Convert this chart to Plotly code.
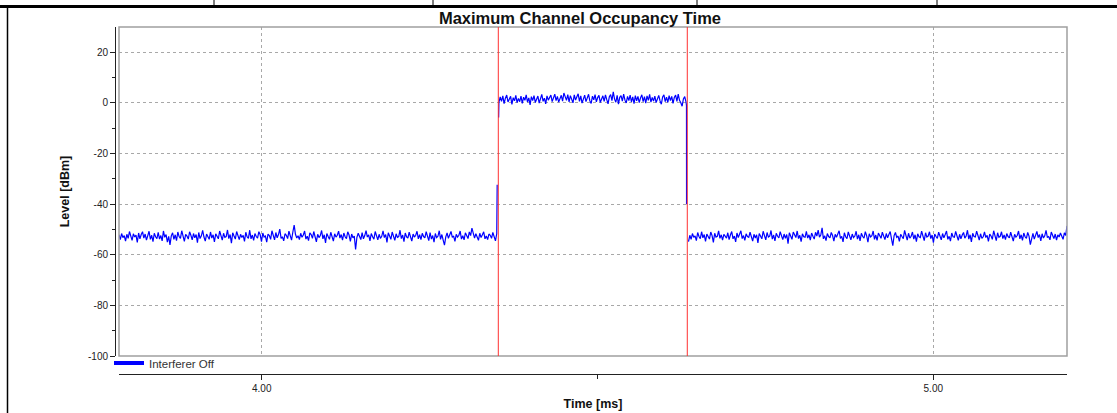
import numpy as np
import plotly.graph_objects as go

# ---------------- data ----------------
off1_levels = [
    -52.1, -54.0, -51.6, -53.2, -52.4, -54.6, -51.9, -53.5, -50.8, -52.9,
    -54.3, -51.7, -53.0, -52.2, -55.1, -51.4, -53.7, -52.0, -50.9, -53.4,
    -51.8, -54.2, -52.6, -50.7, -53.9, -52.3, -54.8, -51.5, -52.9, -53.6,
    -51.1, -53.8, -52.4, -54.5, -50.6, -53.1, -52.0, -55.0, -52.7, -56.1,
    -52.5, -51.3, -53.9, -52.1, -54.4, -51.0, -52.8, -53.5, -50.5, -53.2,
    -54.7, -51.9, -52.6, -53.8, -50.9, -52.3, -54.1, -51.6, -53.3, -52.0,
    -55.2, -51.2, -53.6, -52.5, -50.4, -53.0, -54.6, -51.8, -52.7, -53.9,
    -51.0, -53.4, -52.1, -54.9, -51.7, -52.9, -53.7, -50.6, -52.4, -54.2,
    -51.5, -53.1, -52.8, -50.2, -53.6, -52.0, -55.4, -51.3, -52.6, -53.8,
    -50.8, -52.5, -54.0, -51.9, -53.2, -52.3, -54.7, -51.1, -52.9, -53.5,
    -50.3, -53.7, -52.2, -54.3, -51.6, -52.8, -53.4, -50.9, -52.1, -54.8,
    -51.4, -53.0, -52.6, -55.0, -51.8, -52.4, -53.9, -50.5, -52.7, -54.1,
    -51.2, -53.3, -52.0, -49.9, -53.5, -52.9, -54.5, -51.7, -52.3, -53.6,
    -50.7, -52.8, -54.2, -51.0, -48.3, -51.9, -53.4, -52.5, -54.0, -51.5,
    -53.1, -52.2, -50.6, -53.8, -52.7, -54.4, -51.3, -52.0, -53.5, -50.8,
    -52.6, -54.9, -51.9, -53.2, -52.4, -50.4, -53.7, -52.1, -55.3, -51.6,
    -52.8, -53.9, -51.1, -52.5, -54.6, -51.7, -53.0, -52.3, -50.7, -53.4,
    -52.0, -54.2, -51.4, -52.9, -53.6, -50.9, -52.2, -54.7, -51.8, -53.3,
    -52.6, -57.9, -53.1, -51.5, -52.8, -54.0, -51.2, -53.7, -52.4, -50.5,
    -53.0, -52.1, -54.5, -51.6, -52.9, -53.8, -50.8, -52.3, -54.1, -51.9,
    -53.5, -52.7, -50.6, -53.2, -52.0, -55.1, -51.3, -52.6, -53.9, -51.0,
    -52.4, -54.3, -51.7, -53.1, -52.8, -50.3, -53.6, -52.2, -54.8, -51.4,
    -52.9, -53.4, -51.1, -52.5, -54.6, -51.8, -53.0, -52.3, -50.7, -53.7,
    -52.1, -54.0, -51.5, -52.8, -53.3, -50.9, -52.6, -54.4, -51.2, -53.8,
    -52.4, -55.0, -51.6, -53.2, -52.7, -50.5, -53.9, -52.0, -54.2, -56.2,
    -52.9, -51.4, -53.5, -52.2, -50.8, -53.1, -52.6, -54.7, -51.9, -53.0,
    -52.3, -50.6, -53.8, -52.5, -54.1, -51.3, -52.8, -53.6, -51.0, -52.4,
    -49.5, -52.0, -53.4, -51.7, -52.9, -54.3, -51.5, -53.2, -52.1, -50.9,
    -53.7, -52.6, -54.0, -51.8, -52.3, -53.5, -51.2, -52.8, -54.5, -51.6,
]

on_levels = [
    0.2, 2.4, 0.6, 2.8, -0.3, 1.9, 3.1, 0.4, 1.7, 2.6,
    -0.6, 2.1, 0.8, 3.0, 0.1, 1.8, 0.5, 2.7, -0.2, 2.3,
    1.0, 3.2, 0.3, 2.0, -0.8, 2.5, 0.9, 2.9, 0.2, 1.6,
    2.7, -0.1, 2.2, 3.4, 0.6, 1.9, -0.4, 2.8, 1.1, 2.4,
    3.1, 0.5, 2.0, 3.5, 0.9, 2.6, 0.3, 2.1, 3.0, 0.7,
    3.9, 2.5, 1.0, 3.3, 0.4, 2.9, 1.8, 0.0, 3.2, 1.1,
    2.4, 3.6, 0.6, 2.8, -0.1, 2.0, 3.1, 0.5, 2.3, 3.4,
    0.8, -0.2, 2.7, 1.2, 3.3, 0.4, 2.1, 3.0, 0.2, 1.9,
    2.8, 0.6, 3.2, 1.3, -0.4, 2.5, 3.3, 0.9, 4.4, 1.5,
    0.3, 3.0, -0.5, 2.2, 2.9, 0.7, 3.5, 1.1, 0.0, 2.6,
    0.9, 3.1, 0.4, 2.4, -0.3, 2.9, 0.8, 2.6, 0.1, 2.0,
    3.2, 0.5, 2.5, -0.1, 2.8, 1.0, 3.4, 0.3, 2.2, 0.7,
    2.7, 0.1, 2.1, 3.0, 0.8, -0.5, 2.4, 3.2, 0.5, 2.3,
    0.2, 2.9, 0.9, 2.6, -0.2, 2.2, 3.1, 0.6, 3.5, 1.0,
    0.1, -1.3, 1.6, 2.5, 0.4,
]

off2_levels = [
    -54.8, -52.3, -53.9, -51.6, -53.1, -52.5, -54.4, -51.2, -52.8, -53.6,
    -50.9, -53.3, -52.0, -54.7, -51.8, -52.6, -53.8, -51.0, -52.4, -55.1,
    -51.5, -53.0, -52.7, -50.6, -53.5, -52.1, -54.2, -51.9, -52.9, -53.4,
    -51.3, -54.0, -52.2, -50.8, -53.7, -52.6, -54.9, -51.4, -53.2, -52.0,
    -50.5, -53.6, -52.4, -54.3, -51.7, -52.8, -53.1, -51.1, -52.5, -54.6,
    -51.9, -53.4, -52.1, -55.3, -51.6, -52.9, -53.7, -50.7, -52.3, -54.1,
    -51.2, -53.0, -52.6, -50.4, -53.8, -52.2, -54.5, -51.5, -52.7, -53.3,
    -50.9, -52.4, -54.0, -51.8, -53.5, -52.0, -55.6, -51.3, -52.8, -53.9,
    -51.0, -52.5, -53.2, -50.6, -53.6, -52.3, -54.8, -51.7, -52.9, -53.1,
    -50.8, -53.4, -52.1, -54.2, -51.4, -52.7, -53.8, -51.1, -52.6, -50.3,
    -53.0, -52.2, -49.4, -53.7, -52.5, -54.4, -51.6, -52.8, -53.3, -51.2,
    -52.4, -54.6, -51.9, -53.1, -52.0, -50.5, -53.5, -52.7, -54.9, -51.3,
    -52.9, -53.6, -51.0, -52.3, -54.1, -51.8, -53.2, -52.6, -50.7, -53.8,
    -52.1, -54.5, -51.5, -52.8, -53.4, -50.9, -52.4, -55.0, -51.7, -53.0,
    -52.5, -50.6, -53.9, -52.2, -54.3, -51.4, -52.7, -53.5, -51.1, -52.9,
    -54.0, -51.6, -53.3, -52.0, -50.8, -53.7, -56.4, -52.4, -51.2, -53.1,
    -52.6, -54.7, -51.9, -52.8, -53.6, -50.4, -52.3, -54.2, -51.5, -53.4,
    -52.7, -51.0, -53.8, -52.1, -54.8, -51.7, -52.9, -53.2, -50.7, -52.5,
    -54.4, -51.3, -53.0, -52.6, -50.9, -53.6, -52.2, -55.2, -51.8, -52.8,
    -53.5, -51.1, -52.4, -54.1, -51.6, -53.3, -52.0, -50.6, -53.9, -52.7,
    -54.6, -51.4, -52.9, -53.1, -50.8, -52.5, -54.3, -51.9, -53.7, -52.2,
    -51.2, -53.4, -52.6, -50.3, -53.8, -52.1, -54.9, -51.5, -52.8, -53.0,
    -50.7, -52.4, -54.2, -51.7, -53.5, -52.9, -51.0, -53.2, -52.3, -54.7,
    -51.8, -52.6, -53.9, -50.5, -52.0, -54.4, -51.3, -53.1, -52.7, -50.9,
    -53.6, -52.2, -54.0, -51.6, -52.8, -53.3, -51.1, -52.5, -54.6, -51.9,
    -53.0, -52.4, -50.6, -53.7, -52.1, -54.3, -51.4, -52.9, -53.5, -51.2,
    -52.6, -56.0, -52.9, -51.5, -53.8, -52.3, -50.8, -53.2, -52.0, -54.5,
    -51.7, -53.4, -52.5, -50.4, -53.1, -52.8, -54.1, -51.0, -52.3, -53.6,
    -51.8, -54.2, -52.1, -53.0, -51.4, -52.7, -53.9, -51.3, -52.4, -48.6,
]

# segment time spans [ms]
off1_span = [3.7875, 4.3500]
on_span = [4.3532, 4.6318]
off2_span = [4.6355, 5.1991]

# edge samples (NaN = no sample drawn, leaves a gap in the trace)
rise_times = [4.3506, 4.3517, 4.3528]
rise_levels = [-32.3, float("nan"), -5.8]
fall_times = [4.6325, 4.6326, 4.6340]
fall_levels = [-1.0, -40.0, float("nan")]

cursor_times = [4.3523, 4.6337]

series_name = "Interferer Off"
x_range = [3.7875, 5.1991]
y_range = [-100, 30]
x_tickvals = [4.0, 5.0]
x_ticktext = ["4.00", "5.00"]
x_minor = [4.5]
y_tickvals = [-100, -80, -60, -40, -20, 0, 20]
y_ticktext = ["-100", "-80", "-60", "-40", "-20", "0", "20"]
y_minor = [-90, -70, -50, -30, -10, 10]

# ---------------- build the trace ----------------
t_off1 = np.linspace(off1_span[0], off1_span[1], len(off1_levels))
t_on = np.linspace(on_span[0], on_span[1], len(on_levels))
t_off2 = np.linspace(off2_span[0], off2_span[1], len(off2_levels))

t_all = np.concatenate([t_off1, rise_times, t_on, fall_times, t_off2])
y_all = np.concatenate([off1_levels, rise_levels, on_levels, fall_levels, off2_levels])

W, H = 1117, 413
ML, MR, MT, MB = 115, 50, 27, 39
PW, PH = W - ML - MR, H - MT - MB


def px(xp):
    return (xp - ML) / PW


def py(yp):
    return (H - MB - yp) / PH


fig = go.Figure()
fig.add_trace(go.Scatter(
    x=t_all, y=y_all, mode="lines", connectgaps=False,
    line=dict(color="#0000ff", width=1.2),
    showlegend=False, hoverinfo="skip",
))
fig.add_trace(go.Scatter(
    x=[None], y=[None], mode="lines", name=series_name,
    line=dict(color="#0000ff", width=4), showlegend=True,
))

FONT = "Liberation Sans, Arial, sans-serif"
tickfont = dict(family=FONT, size=10, color="#222")
titlefont = dict(family=FONT, size=12.5, color="#111", weight="bold")

fig.update_layout(
    width=W, height=H, autosize=False,
    margin=dict(l=ML, r=MR, t=MT, b=MB, pad=0),
    paper_bgcolor="white", plot_bgcolor="white",
    title=dict(text="Maximum Channel Occupancy Time", x=px(580), xref="paper",
               xanchor="center", y=1 - 18 / H, yref="container", yanchor="middle",
               font=dict(family=FONT, size=16.5, color="#111", weight="bold"),
               automargin=False),
    xaxis=dict(
        domain=[px(119), 1], range=x_range, anchor="free", position=0,
        automargin=False,
        showline=True, linecolor="#222", linewidth=1,
        ticks="outside", ticklen=5, tickcolor="#222",
        tickmode="array", tickvals=x_tickvals, ticktext=x_ticktext,
        tickfont=tickfont,
        minor=dict(tickmode="array", tickvals=x_minor, ticks="outside", ticklen=4,
                   tickcolor="#222", showgrid=False),
        showgrid=True, gridcolor="#a8a8a8", griddash="3px,3px", gridwidth=1,
        zeroline=False,
        title=dict(text="Time [ms]", font=titlefont, standoff=6),
    ),
    yaxis=dict(
        domain=[py(356), 1], range=y_range, anchor="free", position=0,
        automargin=False,
        showline=True, linecolor="#222", linewidth=1,
        ticks="outside", ticklen=5, tickcolor="#222",
        tickmode="array", tickvals=y_tickvals, ticktext=y_ticktext,
        tickfont=tickfont,
        minor=dict(tickmode="array", tickvals=y_minor, ticks="outside", ticklen=3,
                   tickcolor="#222", showgrid=False),
        showgrid=True, gridcolor="#a8a8a8", griddash="3px,3px", gridwidth=1,
        zeroline=False,
        title=dict(text="Level [dBm]", font=titlefont, standoff=14),
    ),
    legend=dict(x=px(109), y=py(363), xanchor="left", yanchor="middle",
                bgcolor="rgba(0,0,0,0)", borderwidth=0,
                font=dict(family=FONT, size=11.5, color="#333"),
                itemwidth=30, tracegroupgap=0),
)

shapes = []
# plot-area frame
shapes.append(dict(type="rect", xref="x domain", yref="y domain", x0=0, x1=1, y0=0, y1=1,
                   line=dict(color="#a0a0a0", width=1.5), layer="above"))
# cursor lines
for ct in cursor_times:
    shapes.append(dict(type="line", xref="x", yref="y domain", x0=ct, x1=ct, y0=0, y1=1,
                       line=dict(color="#ff3030", width=1), layer="above"))
# surrounding page frame (table rule at top, left border)
shapes.append(dict(type="line", xref="paper", yref="paper", x0=px(0), x1=px(W),
                   y0=py(6.5), y1=py(6.5), line=dict(color="black", width=3)))
shapes.append(dict(type="line", xref="paper", yref="paper", x0=px(7.5), x1=px(7.5),
                   y0=py(6.5), y1=py(H), line=dict(color="black", width=1.5)))
for sx in [214, 433, 697, 937]:
    shapes.append(dict(type="line", xref="paper", yref="paper", x0=px(sx), x1=px(sx),
                       y0=py(0), y1=py(6.5), line=dict(color="black", width=1)))
fig.update_layout(shapes=shapes)

fig.write_html("out.html", config={"displayModeBar": False},
               post_script="document.body.style.margin='0';")
